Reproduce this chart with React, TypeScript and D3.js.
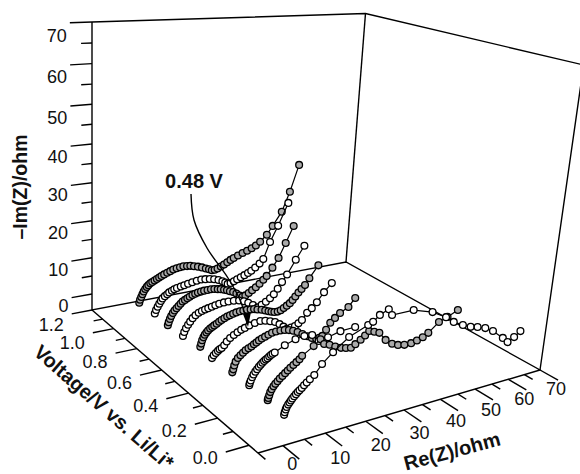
import React, { useEffect, useRef } from 'react'
import * as d3 from 'd3'

const W = 580
const H = 474

const zTicks = [0, 10, 20, 30, 40, 50, 60, 70]
const voltageTicks = [0.0, 0.2, 0.4, 0.6, 0.8, 1.0, 1.2]
const reTicks = [0, 10, 20, 30, 40, 50, 60, 70]

// spectra, back to front. each one has a voltage, Re(Z) values and -Im(Z) values
const voltages = [1.04, 0.92, 0.80, 0.69, 0.58, 0.48, 0.35, 0.24, 0.12, 0.01]

const re104 = [2, 2.2, 2.5, 2.8, 3.1, 3.5, 3.9, 4.3, 4.8, 5.3, 5.9, 6.5, 7.1, 7.7, 8.4, 9.2, 10, 10.8, 11.7, 12.6, 13.5, 14.5, 15.4, 16.4, 17.5, 18.6, 19.7, 20.6, 21.4, 22.2, 23, 23.9, 24.8, 25.7, 26.6, 27.5, 28.7, 30, 31.3, 32.6, 33.8, 35, 36.9, 38.5, 41, 43.1, 45.4]
const im104 = [0, 0.8, 1.5, 2.2, 2.9, 3.5, 4, 4.4, 4.8, 5.1, 5.4, 5.7, 6, 6.3, 6.6, 6.9, 7.2, 7.5, 7.7, 7.8, 7.9, 7.8, 7.7, 7.4, 7.1, 6.7, 6.2, 5.8, 5.4, 5.4, 5.6, 6, 6.4, 6.9, 7.4, 7.8, 8.3, 8.8, 9.2, 9.7, 10.3, 11.2, 12.9, 15.2, 18.9, 24.3, 31.6]

const re092 = [2.4, 2.7, 3.1, 3.5, 3.9, 4.3, 4.9, 5.5, 6, 6.7, 7.3, 8, 9, 9.9, 10.9, 12, 13.2, 14.4, 15.5, 16.7, 17.9, 19.1, 20.2, 21, 21.7, 22.5, 23.4, 24.3, 25.3, 26.3, 27.3, 28.2, 29.3, 30.5, 31.5, 33.2, 35.3, 37.9]
const im092 = [0, 0.9, 1.7, 2.4, 3.1, 3.7, 4.2, 4.6, 5, 5.3, 5.6, 5.8, 6, 6.2, 6.4, 6.6, 6.8, 6.9, 6.8, 6.6, 6.3, 5.9, 5.3, 4.8, 4.3, 4.4, 4.7, 5.1, 5.5, 5.9, 6.3, 6.8, 7.5, 8.4, 9.5, 14, 18.2, 24.2]

const re080 = [2, 2.2, 2.5, 2.8, 3.2, 3.6, 4.1, 4.6, 5.1, 5.6, 6.2, 6.8, 7.4, 8.1, 8.8, 9.5, 10.3, 11.1, 12, 12.9, 13.8, 14.7, 15.5, 16.4, 17.2, 18, 18.9, 19.8, 20.7, 21.5, 22.3, 23.2, 24.1, 25.1, 26.1, 27.1, 28, 29.5, 31.1, 32.9, 34.9]
const im080 = [0, 0.8, 1.6, 2.3, 3, 3.6, 4.1, 4.6, 5.1, 5.6, 5.9, 6.2, 6.5, 6.8, 7, 7.2, 7.3, 7.4, 7.4, 7.4, 7.3, 7.1, 6.9, 6.6, 6.3, 5.9, 5.5, 4.9, 4.2, 3.7, 3.9, 4.4, 5, 5.6, 6.4, 7.3, 8.2, 10.2, 12.6, 16.4, 20.7]

const re069 = [2.3, 2.6, 3, 3.5, 4, 4.6, 5.3, 6.1, 6.9, 7.7, 8.5, 9.4, 10.3, 11.3, 12.5, 13.7, 15.1, 16.5, 17.8, 19, 20.3, 21.6, 22.7, 23.8, 24.9, 25.9, 26.9, 28, 29.3, 31.5, 33.7]
const im069 = [0, 1, 1.9, 2.7, 3.4, 4.2, 4.8, 5.3, 5.6, 5.8, 6, 6.2, 6.4, 6.6, 6.7, 6.7, 6.6, 6.4, 5.9, 5.3, 4.4, 3.5, 4, 4.6, 5.3, 6.2, 7.5, 9.1, 10.9, 14.5, 17.9]

const re058 = [3, 3.2, 3.4, 3.7, 4, 4.4, 4.8, 5.3, 5.8, 6.3, 6.9, 7.5, 8.1, 8.8, 9.5, 10.2, 11, 11.8, 12.7, 13.6, 14.5, 15.5, 16.4, 17.3, 18.4, 19.4, 20.3, 21.1, 21.9, 22.8, 23.6, 24.4, 25.2, 26, 26.7, 27.4, 28.2, 29, 29.9, 31, 33.3]
const im058 = [0, 0.8, 1.6, 2.3, 2.9, 3.4, 3.8, 4.2, 4.5, 4.8, 5.1, 5.5, 5.8, 6.1, 6.4, 6.6, 6.8, 7, 7.1, 7.1, 7.1, 7, 6.9, 6.6, 6.3, 5.9, 5.5, 5.2, 5, 4.9, 5.1, 5.5, 6, 6.5, 7.2, 8, 8.9, 9.7, 10.6, 12.2, 15.2]

const re048 = [2.5, 2.9, 3.4, 3.9, 4.3, 4.8, 5.4, 6, 6.8, 7.7, 8.6, 9.5, 10.4, 11.5, 12.9, 14.3, 15.6, 16.9, 18.2, 19.4, 20.5, 21.5, 22.6, 23.6, 24.5, 25.4, 26.7, 27.9, 29.2, 31, 33]
const im048 = [0, 0.6, 1.1, 1.5, 1.8, 2, 2.6, 3.4, 4.1, 4.7, 5.2, 5.6, 5.9, 6.3, 6.6, 6.8, 6.6, 6.2, 5.7, 4.9, 4, 3.2, 3.3, 3.5, 4, 4.7, 6.3, 7.3, 8.6, 10.9, 12.9]

const re035 = [2.9, 3.1, 3.3, 3.6, 4.1, 4.7, 5.3, 5.9, 6.6, 7.3, 7.9, 8.5, 9.1, 9.8, 10.6, 11.4, 12.3, 13.3, 14.4, 15.5, 16.6, 17.7, 18.9, 20.2, 21.6, 22.8, 24, 24.8, 25.6, 26.5, 27.5, 28.7, 30, 32.2, 33.9]
const im035 = [0, 0.7, 1.6, 2.5, 3.3, 3.8, 4.3, 4.8, 5.1, 5.4, 5.8, 6.1, 6.5, 6.8, 7.1, 7.4, 7.7, 7.8, 7.8, 7.7, 7.4, 7, 6.4, 5.6, 4.7, 4, 3.5, 3.6, 3.9, 5.3, 6.9, 7.9, 8.9, 10, 12]

const re024 = [3, 3.1, 3.3, 3.6, 3.9, 4.3, 4.7, 5.1, 5.5, 5.9, 6.3, 6.7, 7.1, 7.5, 7.9, 8.3, 8.8, 11.2, 13.8, 16, 18, 19.8, 22.2, 25.4, 29.3]
const im024 = [0, 0.5, 1.1, 1.8, 2.4, 3, 3.5, 4, 4.4, 4.8, 5.1, 5.4, 5.6, 5.9, 6.2, 6.4, 6.6, 7.8, 8.7, 9, 8.8, 6.9, 7.3, 8.1, 8.3]

const re012 = [2.9, 3, 3.2, 3.4, 3.7, 4.1, 4.5, 5, 5.5, 6.1, 6.7, 7.3, 7.9, 8.6, 9.3, 10, 10.6, 13.3, 14.9, 15.9, 17.3, 18.8, 20.3, 21.6, 22.9, 24, 25.3, 26.4, 27.4, 28.8, 30.2, 32.1, 34, 35.7, 37.5, 39.4, 41, 42.6, 44.1, 46.9, 49.3, 52.2]
const im012 = [0, 0.5, 1.1, 1.8, 2.4, 3, 3.5, 4, 4.5, 5, 5.5, 6, 6.5, 7, 7.5, 8, 8.7, 10.4, 11.7, 10.3, 9.8, 9, 8.35, 8, 7.75, 8.4, 9.2, 10, 10.9, 10.4, 9.8, 7.6, 6.2, 5.5, 5.1, 5.1, 5.4, 5.9, 6.7, 8.9, 9.7, 10.9]

const re001 = [2.5, 2.6, 2.8, 3, 3.3, 3.6, 3.9, 4.2, 4.6, 5, 5.4, 5.8, 6.3, 6.8, 7.4, 8.1, 9.1, 10.8, 13.3, 17, 21.6, 22.8, 24.4, 26.6, 27.6, 33.3, 38.6, 42.6, 45, 47.8, 50.2, 52.3, 54.7, 57.2, 60.6, 62.3, 64.2, 66]
const im001 = [0, 0.6, 1.2, 1.7, 2.2, 2.6, 3, 3.4, 3.8, 4.2, 4.6, 4.9, 5.3, 5.8, 6.3, 6.9, 7.65, 9.8, 12, 14.7, 16.5, 17, 18.3, 19.2, 17.6, 17.6, 16, 13.9, 12.2, 10.8, 9.8, 9.3, 8.5, 7.2, 4.6, 3.1, 4, 5.2]

const spectraRe = [re104, re092, re080, re069, re058, re048, re035, re024, re012, re001]
const spectraIm = [im104, im092, im080, im069, im058, im048, im035, im024, im012, im001]

// the box: u along Re(Z), v along voltage (back to front), t up the height
const reScale = d3.scaleLinear().domain([-5.64, 70]).range([0, 1])
const vScale = d3.scaleLinear().domain([1.2, -0.054]).range([0, 1])
const zScale = d3.scaleLinear().domain([-4.49, 70]).range([0, 1])

// floor corners on the page, and the point where the verticals meet
const A = [92, 310]
const B = [346, 262]
const C = [540, 370]
const D = [258, 453]
const vanishY = 3500
const topY = 22

const sx = A[0] - B[0] + C[0] - D[0]
const sy = A[1] - B[1] + C[1] - D[1]
const dx1 = B[0] - C[0]
const dx2 = D[0] - C[0]
const dy1 = B[1] - C[1]
const dy2 = D[1] - C[1]
const det = dx1 * dy2 - dx2 * dy1
const g = (sx * dy2 - dx2 * sy) / det
const h = (dx1 * sy - sx * dy1) / det
const m3 = (A[1] - topY) / (topY - vanishY)

const project = (u: number, v: number, t: number): [number, number] => {
    const w = g * u + h * v + 1 + m3 * t
    const x = (B[0] - A[0] + g * B[0]) * u + (D[0] - A[0] + h * D[0]) * v + A[0] + A[0] * m3 * t
    const y = (B[1] - A[1] + g * B[1]) * u + (D[1] - A[1] + h * D[1]) * v + A[1] + vanishY * m3 * t
    return [x / w, y / w]
}

export default function App() {
    const svgRef = useRef<SVGSVGElement | null>(null)

    useEffect(() => {
        const svg = d3.select(svgRef.current)
        svg.selectAll('*').remove()

        const line = d3.line()
        const addPath = (d: string | null, width = 1.4) =>
            svg.append('path')
                .attr('d', d)
                .attr('fill', 'none')
                .attr('stroke', '#000')
                .attr('stroke-width', width)
        const addLine = (pts: [number, number][], width = 1.4) => addPath(line(pts), width)

        // box
        addLine([project(0, 0, 1), project(0, 0, 0), project(1, 0, 0), project(1, 1, 0), project(0, 1, 0)])
        addLine([project(0, 0, 0), project(0, 1.035, 0)])
        addLine([project(0, 0, 1), project(1, 0, 1), project(1, 1, 1.02), project(1, 1, 0)])
        addLine([project(1, 0, 1), project(1, 0, 0)])

        const font = '"Liberation Sans", Arial, sans-serif'
        const addText = (x: number, y: number, str: string, size: number, anchor: string, bold = false, rotate = 0) =>
            svg.append('text')
                .attr('transform', `translate(${x},${y}) rotate(${rotate})`)
                .attr('text-anchor', anchor)
                .attr('dominant-baseline', 'central')
                .attr('font-family', font)
                .attr('font-size', size)
                .attr('font-weight', bold ? 'bold' : 'normal')
                .attr('fill', '#111')
                .text(str)

        // height axis, ticks lie in the back wall
        zTicks.forEach(z => {
            addLine([project(0, 0, zScale(z)), project(-0.068, 0, zScale(z))])
            const [x, y] = project(-0.068, 0, zScale(z))
            addText(x - 3, y + 8 + (z / 70) * 5, String(z), 18, 'end')
            if (z < 70) {
                const mid = zScale(z + 5)
                addLine([project(0, 0, mid), project(-0.034, 0, mid)])
            }
        })

        // voltage axis
        voltageTicks.forEach(val => {
            const v = vScale(val)
            addLine([project(0, v, 0), project(-0.068, v, 0)])
            const [x, y] = project(-0.068, v, 0)
            addText(x - 8, y + 6 + val * 4, val.toFixed(1), 18, 'end')
            if (val < 1.2) {
                const mid = vScale(val + 0.1)
                addLine([project(0, mid, 0), project(-0.03, mid, 0)])
            }
        })

        // Re(Z) axis
        reTicks.forEach(val => {
            const u = reScale(val)
            addLine([project(u, 1, 0), project(u, 1.075, 0)])
            const [x, y] = project(u, 1.075, 0)
            addText(x - (val === 0 ? 7 : 2), Math.min(y + 12 - (val / 70) * 3, H - 10), String(val), 18, 'middle')
            if (val < 70) {
                const mid = reScale(val + 5)
                addLine([project(mid, 1, 0), project(mid, 1.035, 0)])
            }
        })

        // spectra
        voltages.forEach((volt, i) => {
            const pts = d3.zip(spectraRe[i], spectraIm[i]).map(d =>
                project(reScale(d[0]), vScale(volt), zScale(d[1])))
            addLine(pts, 1.2)
            svg.append('g')
                .selectAll('circle')
                .data(pts)
                .enter()
                .append('circle')
                .attr('cx', d => d[0])
                .attr('cy', d => d[1])
                .attr('r', 3.4)
                .attr('fill', i % 2 === 0 ? '#aaa' : '#fff')
                .attr('stroke', '#000')
                .attr('stroke-width', 1.3)
        })

        // callout
        const callout = d3.line().curve(d3.curveCatmullRom)
        addPath(callout([[191, 194], [194, 220], [207, 248], [228, 278], [240, 300], [246, 318]]))
        svg.append('path')
            .attr('d', 'M243,314 L251,312 L248,327 Z')
            .attr('fill', '#000')
        addText(194, 181, '0.48 V', 20, 'middle', true)

        // axis titles
        addText(20, 187, '\u2013Im(Z)/ohm', 19.5, 'middle', true, -90)
        addText(104, 407, 'Voltage/V vs. Li/Li*', 20, 'middle', true, 41)
        addText(452, 451, 'Re(Z)/ohm', 20, 'middle', true, -15)
    }, [])

    return (
        <svg
            ref={svgRef}
            width={W}
            height={H}
            style={{ position: 'absolute', left: 0, top: 0, display: 'block', background: '#fff' }}
        />
    )
}
